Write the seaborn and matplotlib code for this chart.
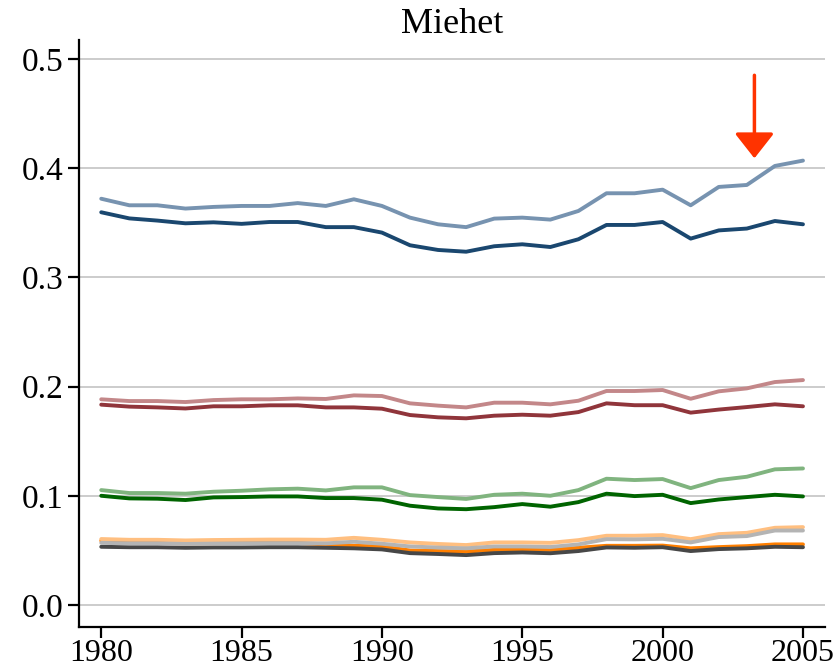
import numpy as np
import pandas as pd
import seaborn as sns
import matplotlib.pyplot as plt

# data
years = list(range(1980, 2006))

light_blue = [0.372, 0.366, 0.366, 0.363, 0.3645, 0.3654, 0.3654, 0.368, 0.3654, 0.3715,
              0.3654, 0.3547, 0.3486, 0.346, 0.3538, 0.3547, 0.3529, 0.3608, 0.377, 0.377,
              0.3803, 0.366, 0.3828, 0.3846, 0.402, 0.4069]
navy = [0.3596, 0.354, 0.352, 0.3495, 0.3504, 0.349, 0.3507, 0.3507, 0.346, 0.346,
        0.341, 0.3294, 0.3251, 0.3235, 0.3285, 0.3303, 0.3278, 0.3349, 0.348, 0.348,
        0.3507, 0.3355, 0.343, 0.3447, 0.3516, 0.3486]
light_red = [0.1884, 0.1868, 0.1868, 0.1859, 0.1877, 0.1884, 0.1884, 0.1892, 0.1887, 0.192,
             0.1914, 0.1847, 0.1826, 0.181, 0.1853, 0.1853, 0.1838, 0.1871, 0.196, 0.196,
             0.1969, 0.1889, 0.1957, 0.1984, 0.2042, 0.206]
dark_red = [0.1835, 0.1817, 0.181, 0.180, 0.182, 0.182, 0.1829, 0.1829, 0.181, 0.181,
            0.1798, 0.174, 0.1719, 0.171, 0.1734, 0.1743, 0.1734, 0.1767, 0.1847, 0.183,
            0.183, 0.1762, 0.179, 0.1813, 0.1838, 0.182]
light_green = [0.1053, 0.1026, 0.1026, 0.102, 0.1038, 0.1047, 0.106, 0.1066, 0.105, 0.1078,
               0.1078, 0.1007, 0.0989, 0.0972, 0.101, 0.102, 0.1001, 0.1053, 0.1157, 0.1145,
               0.1154, 0.1071, 0.1145, 0.1175, 0.1243, 0.1251]
dark_green = [0.1001, 0.0977, 0.0974, 0.0962, 0.0986, 0.0989, 0.0995, 0.0995, 0.098, 0.098,
              0.0965, 0.091, 0.0885, 0.0878, 0.0897, 0.0925, 0.0901, 0.0943, 0.102, 0.0998,
              0.101, 0.0934, 0.0967, 0.0989, 0.101, 0.0995]
light_orange = [0.0605, 0.0598, 0.0598, 0.0592, 0.0596, 0.0598, 0.060, 0.060, 0.0598, 0.0616,
                0.0598, 0.0574, 0.056, 0.055, 0.0574, 0.0574, 0.057, 0.0595, 0.0635, 0.0635,
                0.0641, 0.0604, 0.065, 0.0662, 0.0708, 0.0714]
orange = [0.0590, 0.0575, 0.0570, 0.0565, 0.0567, 0.0568, 0.057, 0.057, 0.0555, 0.0543,
          0.0537, 0.050, 0.0495, 0.049, 0.0506, 0.051, 0.0505, 0.0525, 0.0543, 0.0543,
          0.0545, 0.052, 0.0531, 0.054, 0.0556, 0.0556]
light_gray = [0.0570, 0.0565, 0.0565, 0.056, 0.0563, 0.0565, 0.0567, 0.0567, 0.0565, 0.058,
              0.0562, 0.0537, 0.0527, 0.052, 0.0537, 0.0537, 0.0532, 0.0556, 0.0604, 0.0602,
              0.0607, 0.0574, 0.0623, 0.0632, 0.0683, 0.0683]
dark_gray = [0.0534, 0.0530, 0.0530, 0.0525, 0.0528, 0.0528, 0.053, 0.053, 0.0525, 0.052,
             0.051, 0.0476, 0.0468, 0.0458, 0.0476, 0.0482, 0.0475, 0.0495, 0.0528, 0.0525,
             0.053, 0.0495, 0.0513, 0.052, 0.0534, 0.053]

series = {
    "navy": navy, "light_blue": light_blue,
    "dark_red": dark_red, "light_red": light_red,
    "dark_green": dark_green, "light_green": light_green,
    "orange": orange, "light_orange": light_orange,
    "dark_gray": dark_gray, "light_gray": light_gray,
}
colors = {
    "navy": "#1a476f", "light_blue": "#7793b0",
    "dark_red": "#90353b", "light_red": "#c38789",
    "dark_green": "#006400", "light_green": "#80b47f",
    "orange": "#ff7f00", "light_orange": "#ffbf80",
    "dark_gray": "#474747", "light_gray": "#b4b4b4",
}

df = pd.concat([pd.DataFrame({"year": years, "value": v, "series": k})
                for k, v in series.items()], ignore_index=True)

sns.set_style("white")
plt.rcParams["font.family"] = ["Liberation Serif", "DejaVu Serif"]

fig = plt.figure(figsize=(8.38, 6.72), dpi=100)
ax = fig.add_axes([0.094, 0.067, 0.891, 0.873])

for y in [0.0, 0.1, 0.2, 0.3, 0.4, 0.5]:
    ax.axhline(y, color="#cccccc", lw=1.4, zorder=0)

sns.lineplot(data=df, x="year", y="value", hue="series", hue_order=list(series),
             palette=colors, lw=2.8, legend=False, ax=ax)

# red arrow pointing at 2003
ax.annotate("", xy=(2003.27, 0.409), xytext=(2003.27, 0.485),
            arrowprops=dict(arrowstyle="-|>,head_length=0.7,head_width=0.55",
                            color="#ff3300", lw=2.5, shrinkA=0, shrinkB=0,
                            mutation_scale=22))

ax.set_xlim(1979.2, 2005.8)
ax.set_ylim(-0.02, 0.517)
ax.set_xticks([1980, 1985, 1990, 1995, 2000, 2005])
ax.set_yticks([0.0, 0.1, 0.2, 0.3, 0.4, 0.5])
ax.set_yticklabels(["0.0", "0.1", "0.2", "0.3", "0.4", "0.5"])
ax.set_xlabel("")
ax.set_ylabel("")
ax.set_title("Miehet", fontsize=26, pad=5, color="black")

sns.despine(ax=ax)
for s in ["left", "bottom"]:
    ax.spines[s].set_color("black")
    ax.spines[s].set_linewidth(1.6)
ax.tick_params(axis="both", colors="black", width=1.6,
               direction="out", left=True, bottom=True)
ax.tick_params(axis="y", length=8, pad=3, labelsize=24)
ax.tick_params(axis="x", length=8, pad=1, labelsize=23)

fig.savefig("out.png", dpi=100)
